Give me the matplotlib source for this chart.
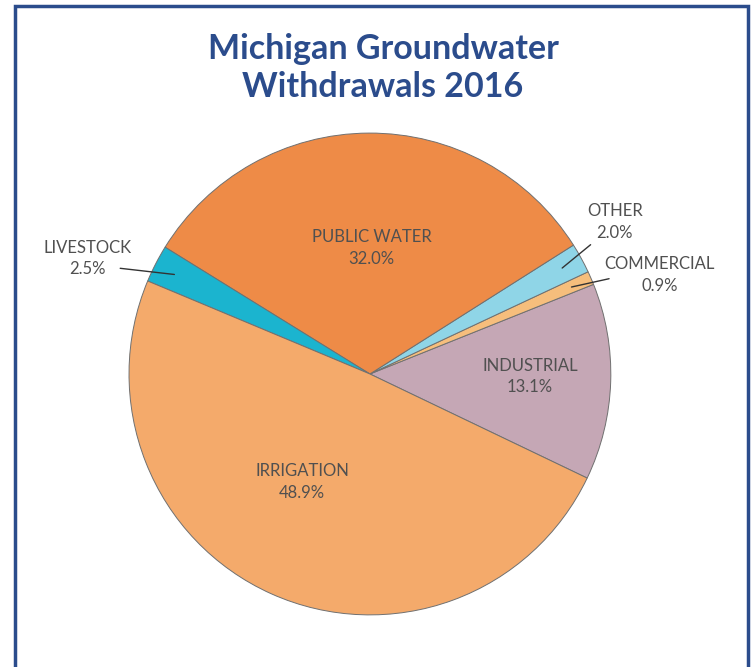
import numpy as np
import matplotlib.pyplot as plt
from matplotlib.patches import Rectangle

categories = ["INDUSTRIAL", "COMMERCIAL", "OTHER", "PUBLIC WATER", "LIVESTOCK", "IRRIGATION"]
values = [13.1, 0.9, 2.0, 32.0, 2.5, 48.9]
labels_pct = ["13.1%", "0.9%", "2.0%", "32.0%", "2.5%", "48.9%"]
colors = ["#C5A7B5", "#F6BE7C", "#8FD5E7", "#EE8B47", "#1BB4CF", "#F4AA6B"]

fig = plt.figure(figsize=(7.54, 6.67), dpi=100)
fig.patch.set_facecolor("white")
fig.patches.append(Rectangle((15/754, -0.05), (748-15)/754, 1.05 - 6/667, transform=fig.transFigure,
                             fill=False, edgecolor="#2B4C8C", linewidth=2.5))

ax = fig.add_axes([0.1711, 0.078, 0.639, 0.7226])
wedges, _ = ax.pie(values, colors=colors, startangle=-25.6, counterclock=True,
                   wedgeprops=dict(edgecolor="#707070", linewidth=0.7))
ax.set_xlim(-1, 1)
ax.set_ylim(-1, 1)
ax.set_aspect("equal")
ax.axis("off")

txt_kw = dict(ha="center", va="center", fontsize=12, color="#505050",
              family=["Lato", "DejaVu Sans"], linespacing=1.4)

# inside labels
inside_pos = {"INDUSTRIAL": (0.664, -0.012), "PUBLIC WATER": (0.008, 0.523), "IRRIGATION": (-0.282, -0.448)}
# outside labels: text position, leader start
outside_pos = {"LIVESTOCK": ((-1.174, 0.481), (-1.048, 0.44)),
               "OTHER": ((1.017, 0.631), (0.925, 0.544)),
               "COMMERCIAL": ((1.203, 0.411), (1.004, 0.398))}

for w, cat, pct in zip(wedges, categories, labels_pct):
    lab = f"{cat}\n{pct}"
    if cat in inside_pos:
        ax.text(*inside_pos[cat], lab, **txt_kw)
    else:
        tpos, lstart = outside_pos[cat]
        ax.text(*tpos, lab, **txt_kw)
        mid = np.deg2rad((w.theta1 + w.theta2) / 2)
        end = (0.9 * np.cos(mid), 0.9 * np.sin(mid))
        ax.annotate("", xy=end, xytext=lstart,
                    arrowprops=dict(arrowstyle="-", color="#333333", lw=1.0))

fig.text(0.508, 0.898, "Michigan Groundwater\nWithdrawals 2016", ha="center", va="center",
         fontsize=24.5, fontweight="bold", color="#2B4C8C", family=["Lato", "DejaVu Sans"],
         linespacing=1.2)

fig.savefig("out.png", dpi=100)
